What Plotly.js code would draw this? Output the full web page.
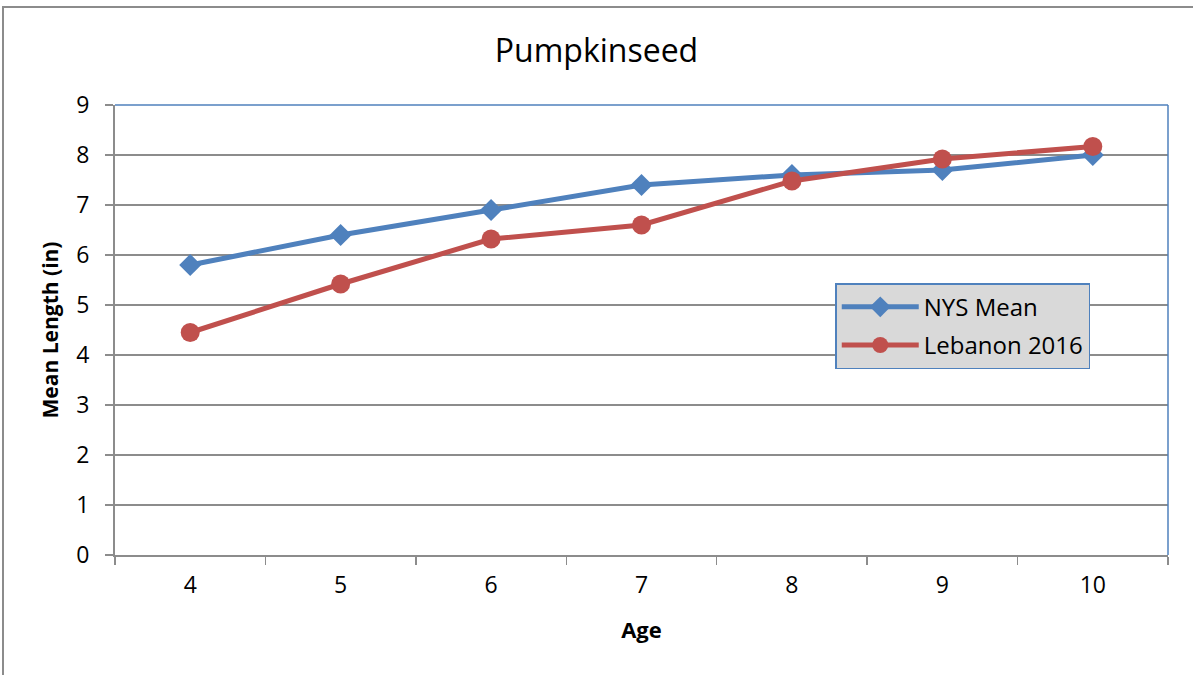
<!DOCTYPE html>
<html>
<head>
<meta charset="utf-8">
<script src="https://cdn.plot.ly/plotly-3.0.1.min.js"></script>
<style>
  body { margin: 0; background: #fff; }
  #chart { position: absolute; left: 0; top: 0; width: 1193px; height: 675px; }
  #frame { position: absolute; left: 2px; top: 6px; width: 1200px; height: 700px; border-left: 2px solid #8c8c8c; border-top: 2px solid #8c8c8c; pointer-events: none; box-sizing: border-box; }
</style>
</head>
<body>
<div id="chart"></div>
<div id="frame"></div>
<script>
const ages = ['4', '5', '6', '7', '8', '9', '10'];
const nysMean = [5.8, 6.4, 6.9, 7.4, 7.6, 7.7, 8.0];
const lebanon2016 = [4.45, 5.42, 6.32, 6.6, 7.48, 7.92, 8.17];
const yTicks = [0, 1, 2, 3, 4, 5, 6, 7, 8, 9];

const font = 'Open Sans, Noto Sans, Liberation Sans, sans-serif';

const traces = [
  {
    x: ages, y: nysMean, name: 'NYS Mean', type: 'scatter', mode: 'lines+markers',
    legendgroup: 'a',
    line: { color: '#4F81BD', width: 5 },
    marker: { symbol: 'diamond', size: 17, color: '#4F81BD' }
  },
  {
    x: ages, y: lebanon2016, name: 'Lebanon 2016', type: 'scatter', mode: 'lines+markers',
    legendgroup: 'b',
    line: { color: '#C0504D', width: 5 },
    marker: { symbol: 'circle', size: 19, color: '#C0504D' }
  }
];

const layout = {
  width: 1193, height: 675,
  margin: { l: 115, r: 25, t: 105, b: 120 },
  paper_bgcolor: '#ffffff', plot_bgcolor: '#ffffff',
  font: { family: font, color: '#000', size: 22 },
  title: { text: 'Pumpkinseed', font: { size: 32, family: font, color: '#000' }, x: 0.5, xanchor: 'center', y: 0.925, yanchor: 'middle' },
  xaxis: {
    type: 'category', range: [-0.5, 6.5],
    tickson: 'boundaries', ticks: 'outside', ticklen: 8, tickwidth: 1.5, tickcolor: '#8c8c8c',
    showline: true, linecolor: '#8c8c8c', linewidth: 2, showgrid: false, zeroline: false,
    tickfont: { size: 23 }, ticklabelstandoff: 8,
    title: { text: '<b>Age</b>', font: { size: 22 }, standoff: 24 }
  },
  yaxis: {
    range: [0, 9], tickvals: yTicks, ticks: 'outside', ticklen: 8, tickwidth: 1.5, tickcolor: '#8c8c8c',
    showline: true, linecolor: '#8c8c8c', linewidth: 2,
    showgrid: true, gridcolor: '#8c8c8c', gridwidth: 1.5, zeroline: false,
    tickfont: { size: 23 }, ticklabelstandoff: 11,
    title: { text: '<b>Mean Length (in)</b>', font: { size: 21 }, standoff: 12 }
  },
  shapes: [
    { type: 'line', xref: 'paper', yref: 'paper', x0: 0, x1: 1, y0: 1, y1: 1, line: { color: '#4F81BD', width: 1.5 } },
    { type: 'line', xref: 'paper', yref: 'paper', x0: 1, x1: 1, y0: 0, y1: 1, line: { color: '#4F81BD', width: 1.5 } }
  ],
  showlegend: true,
  legend: {
    x: 0.684, y: 0.604, xanchor: 'left', yanchor: 'top',
    bgcolor: '#D9D9D9', bordercolor: '#4F81BD', borderwidth: 1.5,
    font: { size: 24, family: font, color: '#000' },
    traceorder: 'grouped', tracegroupgap: 4,
    itemwidth: 77
  }
};

Plotly.newPlot('chart', traces, layout, { displayModeBar: false, staticPlot: true });
</script>
</body>
</html>
